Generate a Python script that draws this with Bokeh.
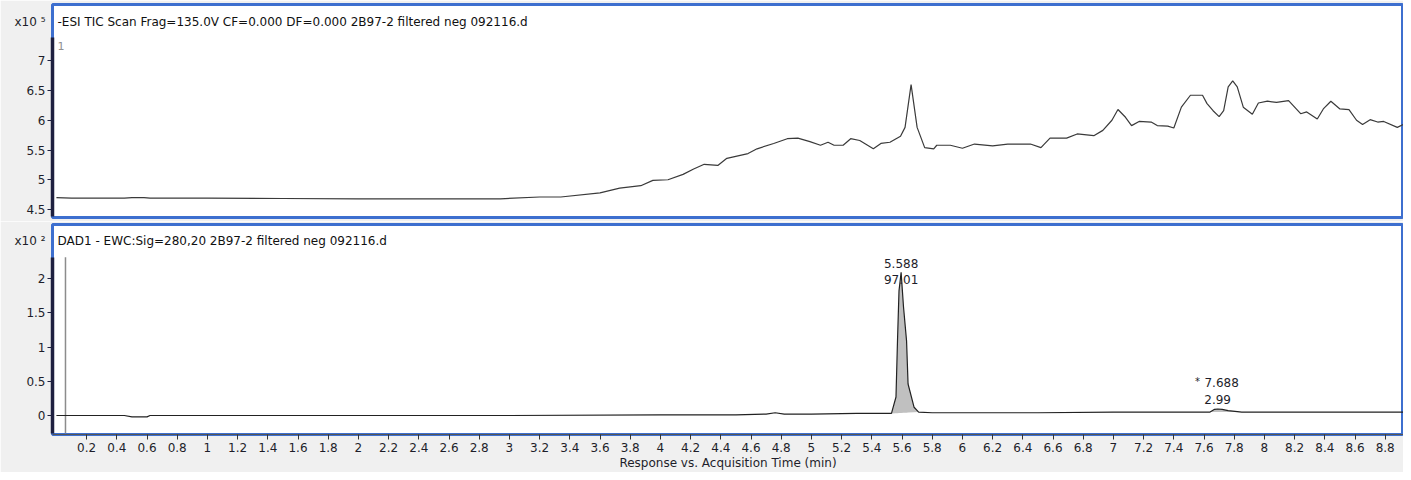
from bokeh.plotting import figure
from bokeh.layouts import column
from bokeh.models import Range1d, Label, FixedTicker, LinearAxis
from bokeh.embed import file_html
from bokeh.resources import INLINE
import numpy as np

# ---------------- data ----------------
tic_title = "-ESI TIC Scan Frag=135.0V CF=0.000 DF=0.000 2B97-2 filtered neg 092116.d"
dad_title = "DAD1 - EWC:Sig=280,20 2B97-2 filtered neg 092116.d"
x_axis_title = "Response vs. Acquisition Time (min)"
tic_scale_label = "x10 \u2075"
dad_scale_label = "x10 \u00b2"

# TIC trace (time in min, intensity in units of 10^5)
tic_t = [0.00, 0.10, 0.45, 0.50, 0.58, 0.62, 1.00, 1.50, 2.00, 2.50, 2.94, 3.20, 3.34,
         3.60, 3.73, 3.87, 3.95, 4.05, 4.15, 4.22, 4.29, 4.38, 4.44, 4.58, 4.64, 4.75,
         4.84, 4.91, 4.99, 5.06, 5.11, 5.15, 5.21, 5.26, 5.32, 5.41, 5.46, 5.52, 5.59,
         5.62, 5.66, 5.70, 5.75, 5.81, 5.83, 5.92, 6.00, 6.08, 6.20, 6.30, 6.45, 6.52,
         6.58, 6.69, 6.76, 6.87, 6.93, 6.99, 7.03, 7.08, 7.12, 7.17, 7.25, 7.29, 7.36,
         7.40, 7.45, 7.51, 7.59, 7.62, 7.66, 7.70, 7.73, 7.76, 7.79, 7.82, 7.86, 7.92,
         7.96, 8.02, 8.08, 8.16, 8.24, 8.28, 8.35, 8.39, 8.44, 8.50, 8.56, 8.61, 8.65,
         8.70, 8.75, 8.79, 8.88, 8.96]
tic_y = [4.70, 4.69, 4.69, 4.70, 4.70, 4.69, 4.69, 4.685, 4.68, 4.68, 4.68, 4.71, 4.71,
         4.78, 4.86, 4.90, 4.99, 5.00, 5.09, 5.18, 5.26, 5.24, 5.36, 5.44, 5.52, 5.61,
         5.69, 5.70, 5.64, 5.58, 5.63, 5.58, 5.58, 5.69, 5.66, 5.52, 5.61, 5.63, 5.73,
         5.88, 6.60, 5.88, 5.54, 5.52, 5.58, 5.58, 5.53, 5.60, 5.57, 5.60, 5.60, 5.54,
         5.70, 5.70, 5.77, 5.74, 5.83, 6.00, 6.18, 6.05, 5.91, 5.98, 5.97, 5.91, 5.90,
         5.87, 6.22, 6.42, 6.42, 6.28, 6.16, 6.06, 6.16, 6.56, 6.66, 6.56, 6.22, 6.10,
         6.29, 6.32, 6.30, 6.33, 6.11, 6.14, 6.02, 6.19, 6.32, 6.19, 6.18, 6.00, 5.93,
         6.01, 5.97, 5.98, 5.88, 5.98]

# DAD trace (time in min, absorbance in units of 10^2)
dad_t = [0.00, 0.45, 0.50, 0.60, 0.62, 1.00, 2.00, 3.00, 4.00, 4.50, 4.70, 4.76, 4.82,
         5.00, 5.30, 5.50, 5.53, 5.56, 5.57, 5.58, 5.594, 5.61, 5.63, 5.64, 5.68, 5.71,
         5.80, 6.00, 6.50, 7.00, 7.50, 7.64, 7.67, 7.69, 7.72, 7.76, 7.85, 8.00, 8.50, 8.97]
dad_y = [0.00, 0.00, -0.02, -0.02, 0.00, 0.00, 0.00, 0.00, 0.01, 0.01, 0.02, 0.04, 0.02,
         0.02, 0.03, 0.03, 0.03, 0.27, 1.09, 1.82, 2.09, 1.58, 1.09, 0.46, 0.12, 0.05,
         0.04, 0.04, 0.04, 0.05, 0.05, 0.05, 0.09, 0.095, 0.09, 0.07, 0.05, 0.05, 0.05, 0.05]

# integrated peaks
peak_start = [5.53, 7.64]
peak_end = [5.71, 7.85]
peak_rt = ["5.588", "7.688"]
peak_area = ["97.01", "2.99"]
peak_top_t = [5.594, 7.69]
peak_top_y = [2.09, 0.095]

marker_t = [0.06]

x_tick_labels = ["0.2", "0.4", "0.6", "0.8", "1", "1.2", "1.4", "1.6", "1.8", "2", "2.2",
                 "2.4", "2.6", "2.8", "3", "3.2", "3.4", "3.6", "3.8", "4", "4.2", "4.4",
                 "4.6", "4.8", "5", "5.2", "5.4", "5.6", "5.8", "6", "6.2", "6.4", "6.6",
                 "6.8", "7", "7.2", "7.4", "7.6", "7.8", "8", "8.2", "8.4", "8.6", "8.8"]
tic_tick_labels = ["4.5", "5", "5.5", "6", "6.5", "7"]
dad_tick_labels = ["0", "0.5", "1", "1.5", "2"]

# ---------------- style ----------------
FONT = "DejaVu Sans"
FS = "12px"
BG = "#f0f0f0"
BLUE = "#3d6fcf"
AXIS_DARK = "#1e2040"
TXT = "#1e1e2a"

FW = 1351           # frame width (px)
X_PX = 151.0        # px per minute
x0 = -0.026
x_range = Range1d(x0, x0 + FW / X_PX)

# top panel geometry
FH1, TOP1 = 213, 4
Y1_PX = 59.5
y1_lo = 4.5 - (TOP1 + FH1 - 209) / Y1_PX
y1_hi = y1_lo + FH1 / Y1_PX
# bottom panel geometry
FH2 = 210
Y2_PX = 68.5
y2_lo = -(434 - 415) / Y2_PX
y2_hi = y2_lo + FH2 / Y2_PX


def style_y(p, labels, bounds):
    vals = [float(s) for s in labels]
    ax = p.yaxis[0]
    ax.ticker = FixedTicker(ticks=vals)
    ax.major_label_overrides = {v: s for v, s in zip(vals, labels)}
    ax.bounds = bounds
    ax.axis_line_color = AXIS_DARK
    ax.axis_line_width = 3.5
    ax.major_tick_line_color = AXIS_DARK
    ax.major_tick_out = 5
    ax.major_tick_in = 0
    ax.minor_tick_out = 0
    ax.minor_tick_in = 0
    ax.major_label_text_font = FONT
    ax.major_label_text_font_size = FS
    ax.major_label_text_color = TXT
    ax.major_label_standoff = 2


def scale_axis(p, yval, text):
    # outer left axis carrying only the "x10^n" multiplier at the header row
    ax = LinearAxis(ticker=FixedTicker(ticks=[yval]),
                    major_label_overrides={yval: text})
    ax.axis_line_color = None
    ax.major_tick_line_color = None
    ax.major_tick_out = 0
    ax.major_tick_in = 0
    ax.minor_tick_out = 0
    ax.minor_tick_in = 0
    ax.major_label_text_font = FONT
    ax.major_label_text_font_size = FS
    ax.major_label_text_color = TXT
    ax.major_label_standoff = -22
    p.add_layout(ax, "left")


def base_fig(fh, yr, bt, bb, x_loc):
    p = figure(frame_width=FW, frame_height=fh, x_range=x_range, y_range=yr,
               output_backend="svg", toolbar_location=None,
               x_axis_location=x_loc, min_border_left=52, min_border_right=0,
               min_border_top=bt, min_border_bottom=bb)
    p.border_fill_color = BG
    p.background_fill_color = "white"
    p.outline_line_color = BLUE
    p.outline_line_width = 3
    p.grid.visible = False
    return p


def header(p, title, fh, top_off):
    p.add_layout(Label(x=5, y=fh - top_off, x_units="screen", y_units="screen", text=title,
                       text_font=FONT, text_font_size=FS, text_color="#111111",
                       text_baseline="middle"))


# ---------------- top: TIC ----------------
p1 = base_fig(FH1, Range1d(y1_lo, y1_hi), TOP1, 4, None)
style_y(p1, tic_tick_labels, (y1_lo + 0.02, 7.39))
header(p1, tic_title, FH1, 17)
scale_axis(p1, y1_hi - 17 / Y1_PX, tic_scale_label)
p1.add_layout(Label(x=5, y=FH1 - 41, x_units="screen", y_units="screen", text="1",
                    text_font=FONT, text_font_size="11px", text_color="#909090",
                    text_baseline="middle"))
p1.line(tic_t, tic_y, line_color="#3a3a3a", line_width=1.2)

# ---------------- bottom: DAD ----------------
p2 = base_fig(FH2, Range1d(y2_lo, y2_hi), 3, 38, "below")
style_y(p2, dad_tick_labels, (y2_lo + 0.02, 2.31))
header(p2, dad_title, FH2, 16)
scale_axis(p2, y2_hi - 16 / Y2_PX, dad_scale_label)

xv = [float(s) for s in x_tick_labels]
xa = p2.xaxis[0]
xa.ticker = FixedTicker(ticks=xv)
xa.major_label_overrides = {v: s for v, s in zip(xv, x_tick_labels)}
xa.axis_line_color = "#555555"
xa.axis_line_width = 1
xa.major_tick_line_color = "#333333"
xa.major_tick_out = 5
xa.major_tick_in = 0
xa.minor_tick_out = 0
xa.minor_tick_in = 0
xa.major_label_text_font = FONT
xa.major_label_text_font_size = FS
xa.major_label_text_color = TXT
xa.major_label_standoff = 3
xa.axis_label = x_axis_title
xa.axis_label_text_font = FONT
xa.axis_label_text_font_size = FS
xa.axis_label_text_font_style = "normal"
xa.axis_label_text_color = TXT
xa.axis_label_standoff = 1

# vertical marker line
p2.segment(x0=marker_t, y0=[y2_lo + 0.02], x1=marker_t, y1=[2.31],
           line_color="#8c8c8c", line_width=1.5)

# filled integrated peaks
dt = np.array(dad_t)
dy = np.array(dad_y)
for s, e in zip(peak_start, peak_end):
    m = (dt >= s) & (dt <= e)
    xs = dt[m]
    base = np.interp(xs, [s, e], [np.interp(s, dt, dy), np.interp(e, dt, dy)])
    p2.varea(x=xs, y1=base, y2=dy[m], fill_color="#c0c0c0")

p2.line(dad_t, dad_y, line_color="#222222", line_width=1.2)

for t, yv, rt, ar in zip(peak_top_t, peak_top_y, peak_rt, peak_area):
    big = yv > 1
    p2.add_layout(Label(x=t, y=yv, text=rt, text_font=FONT, text_font_size=FS,
                        text_color=TXT, text_align="center", text_baseline="middle",
                        x_offset=0 if big else 4, y_offset=9 if big else 26))
    p2.add_layout(Label(x=t, y=yv, text=ar, text_font=FONT, text_font_size=FS,
                        text_color=TXT, text_align="center", text_baseline="middle",
                        y_offset=-7 if big else 9))
p2.add_layout(Label(x=peak_top_t[1], y=peak_top_y[1], text="*", text_font=FONT,
                    text_font_size="10px", text_color=TXT, text_align="center",
                    text_baseline="middle", x_offset=-20, y_offset=27))

layout = column(p1, p2, spacing=0)
open("out.html", "w").write(file_html(layout, INLINE))
